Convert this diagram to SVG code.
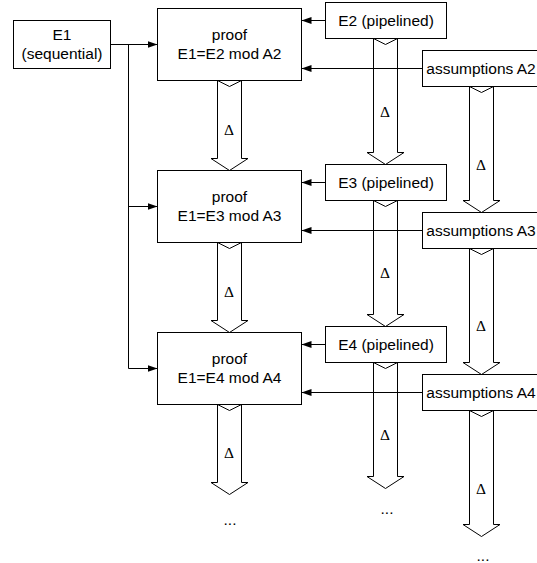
<svg xmlns="http://www.w3.org/2000/svg" width="537" height="563" viewBox="0 0 537 563">
<style>
.box{fill:#fff;stroke:#000;stroke-width:1}
.t{font-family:"Liberation Sans",Arial,sans-serif;font-size:15.5px;fill:#000;text-anchor:middle}
.d{font-family:"Liberation Serif","Times New Roman",serif;font-size:15.5px;fill:#000;text-anchor:middle}
.fat{fill:#fff;stroke:#000;stroke-width:1;stroke-linejoin:miter}
.ln{fill:none;stroke:#000;stroke-width:1}
</style>
<defs>
<marker id="ah" markerUnits="userSpaceOnUse" markerWidth="11" markerHeight="8" refX="10" refY="3.5" orient="auto">
<path d="M0,0 L10,3.5 L0,7 Z" fill="#000"/>
</marker>
</defs>
<rect width="537" height="563" fill="#fff"/>
<g id="connectors">
<path class="fat" d="M217.5,80.5 L229.5,86.5 L241.5,80.5 V158.5 H248 L229.5,170.5 L211,158.5 H217.5 Z"/>
<path class="fat" d="M217.5,242.5 L229.5,248.5 L241.5,242.5 V320.5 H248 L229.5,332.5 L211,320.5 H217.5 Z"/>
<path class="fat" d="M217.5,404.5 L229.5,410.5 L241.5,404.5 V482.5 H248 L229.5,494.5 L211,482.5 H217.5 Z"/>
<path class="fat" d="M373.5,38.5 L385.5,44.5 L397.5,38.5 V152.5 H404 L385.5,164.5 L367,152.5 H373.5 Z"/>
<path class="fat" d="M373.5,200.5 L385.5,206.5 L397.5,200.5 V314.5 H404 L385.5,326.5 L367,314.5 H373.5 Z"/>
<path class="fat" d="M373.5,362.5 L385.5,368.5 L397.5,362.5 V476.5 H404 L385.5,488.5 L367,476.5 H373.5 Z"/>
<path class="fat" d="M469.5,86.5 L481.5,92.5 L493.5,86.5 V200.5 H500 L481.5,212.5 L463,200.5 H469.5 Z"/>
<path class="fat" d="M469.5,248.5 L481.5,254.5 L493.5,248.5 V362.5 H500 L481.5,374.5 L463,362.5 H469.5 Z"/>
<path class="fat" d="M469.5,410.5 L481.5,416.5 L493.5,410.5 V524.5 H500 L481.5,536.5 L463,524.5 H469.5 Z"/>
<text class="d" x="229" y="135">Δ</text>
<text class="d" x="229" y="297">Δ</text>
<text class="d" x="229" y="458">Δ</text>
<text class="d" x="385" y="117">Δ</text>
<text class="d" x="385" y="278">Δ</text>
<text class="d" x="385" y="440">Δ</text>
<text class="d" x="481" y="170">Δ</text>
<text class="d" x="481" y="331">Δ</text>
<text class="d" x="481" y="494">Δ</text>
<path class="ln" marker-end="url(#ah)" d="M110.5,44.5 H157.5"/>
<path class="ln" marker-end="url(#ah)" d="M110.5,44.5 H128.5 V206.5 H157.5"/>
<path class="ln" marker-end="url(#ah)" d="M110.5,44.5 H128.5 V368.5 H157.5"/>
<path class="ln" marker-end="url(#ah)" d="M325.5,20.5 H301.5"/>
<path class="ln" marker-end="url(#ah)" d="M325.5,182.5 H301.5"/>
<path class="ln" marker-end="url(#ah)" d="M325.5,344.5 H301.5"/>
<path class="ln" marker-end="url(#ah)" d="M422.5,68.5 H301.5"/>
<path class="ln" marker-end="url(#ah)" d="M422.5,230.5 H301.5"/>
<path class="ln" marker-end="url(#ah)" d="M422.5,392.5 H301.5"/>
</g>
<g id="e1"><rect class="box" x="13.5" y="20.5" width="97" height="48"/><text class="t" x="62" y="40">E1</text><text class="t" x="62" y="59">(sequential)</text></g>
<g id="proof1"><rect class="box" x="157.5" y="8.5" width="144" height="72"/><text class="t" x="229.5" y="40">proof</text><text class="t" x="229.5" y="59">E1=E2 mod A2</text></g>
<g id="proof2"><rect class="box" x="157.5" y="170.5" width="144" height="72"/><text class="t" x="229.5" y="202">proof</text><text class="t" x="229.5" y="221">E1=E3 mod A3</text></g>
<g id="proof3"><rect class="box" x="157.5" y="332.5" width="144" height="72"/><text class="t" x="229.5" y="364">proof</text><text class="t" x="229.5" y="383">E1=E4 mod A4</text></g>
<g id="e2"><rect class="box" x="325.5" y="2.5" width="121" height="36"/><text class="t" x="386" y="26">E2 (pipelined)</text></g>
<g id="e3"><rect class="box" x="325.5" y="164.5" width="121" height="36"/><text class="t" x="386" y="188">E3 (pipelined)</text></g>
<g id="e4"><rect class="box" x="325.5" y="326.5" width="121" height="36"/><text class="t" x="386" y="350">E4 (pipelined)</text></g>
<g id="a2"><rect class="box" x="422.5" y="50.5" width="117" height="36"/><text class="t" x="481" y="74">assumptions A2</text></g>
<g id="a3"><rect class="box" x="422.5" y="212.5" width="117" height="36"/><text class="t" x="481" y="236">assumptions A3</text></g>
<g id="a4"><rect class="box" x="422.5" y="374.5" width="117" height="36"/><text class="t" x="481" y="398">assumptions A4</text></g>
<g id="dots"><text class="t" x="230" y="525">...</text><text class="t" x="387" y="514">...</text><text class="t" x="483" y="561">...</text></g>
</svg>
